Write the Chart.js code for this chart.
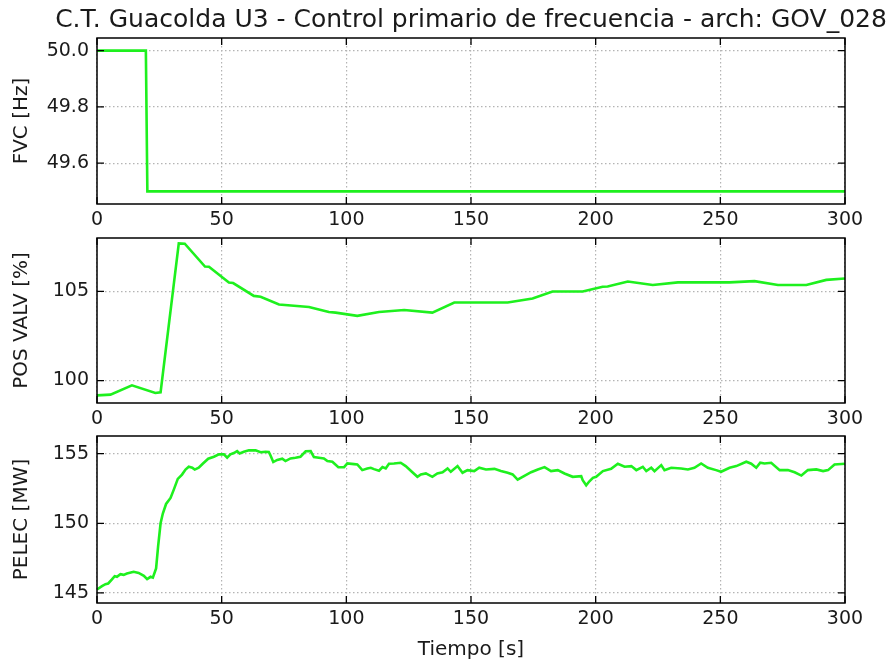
<!DOCTYPE html>
<html>
<head>
<meta charset="utf-8">
<script src="https://cdn.jsdelivr.net/npm/chart.js@4/dist/chart.umd.min.js"></script>
<style>
  html, body { margin: 0; padding: 0; background: #fff; overflow: hidden; }
  #wrap { position: relative; width: 893px; height: 664px; }
  #wrap canvas { position: absolute; left: 0; }
</style>
</head>
<body>
<div id="wrap">
  <canvas id="fvcChart" width="893" height="232" style="top:0px"></canvas>
  <canvas id="valvChart" width="893" height="200" style="top:232px"></canvas>
  <canvas id="pelecChart" width="893" height="232" style="top:432px"></canvas>
</div>
<script>
// frecuencia de consigna (escalon de -0.5 Hz a los 20 s)
const fvcTime = [0, 19.6, 20.2, 300];
const fvcValues = [50.0, 50.0, 49.5, 49.5];

// posicion de valvulas
const valvTime = [0, 5.4, 14, 23.4, 25.5, 32.8, 35.2, 43.3, 44.9, 52.9, 54.6, 62.9, 65.6, 73, 85, 93, 95.7,
  104.4, 113.1, 123.2, 134.5, 143.3, 164.7, 174.7, 182.7, 194.8, 202.8, 204.8, 212.9, 222.9, 233,
  253.7, 263.7, 273.1, 284.5, 292.5, 300];
const valvValues = [99.17, 99.21, 99.73, 99.3, 99.34, 107.7, 107.68, 106.4, 106.39, 105.5, 105.47, 104.75, 104.7,
  104.27, 104.13, 103.85, 103.81, 103.63, 103.85, 103.96, 103.81, 104.38, 104.38, 104.6, 105.0, 105.0,
  105.26, 105.28, 105.56, 105.36, 105.51, 105.51, 105.58, 105.36, 105.36, 105.65, 105.73];

// potencia electrica
const pelecTime = [0, 2, 3.4, 4.5, 6, 7.1, 8, 9.4, 10.7, 12, 14.7, 16.7, 18.8, 20.1, 21.5, 22.4, 23.7, 24.5,
  25.5, 26.4, 27.7, 29.5, 30.8, 32.4, 34.1, 35.5, 36.8, 38.2, 39.2, 40.8, 42.4, 44.6, 46.9, 48.9, 50.9,
  52.2, 53.5, 54.9, 56.2, 57.2, 58.9, 60.9, 63.6, 65.6, 67.6, 68.9, 69.6, 70.7, 72.3, 74.3, 75.6, 77.6,
  79.6, 81.6, 83.7, 85.7, 87.0, 89.0, 91.0, 92.4, 94.4, 96.8, 99.1, 100.4, 103.1, 104.4, 106.4, 108.4,
  109.8, 111.1, 113.1, 114.5, 115.8, 117.1, 119.1, 121.8, 123.8, 126.5, 128.5, 129.9, 131.9, 134.5,
  136.5, 138.6, 140.6, 141.9, 144.6, 146.6, 148.6, 151.3, 153.3, 156.0, 159.4, 162.0, 164.7, 166.7,
  168.7, 170.7, 174.1, 176.8, 179.5, 182.1, 184.8, 187.5, 190.8, 194.2, 194.8, 196.2, 197.5, 198.9,
  200.2, 202.9, 206.2, 208.9, 211.6, 214.3, 216.3, 218.9, 220.3, 222.3, 223.6, 226.3, 227.6, 230.3,
  234.3, 237.0, 239.6, 242.3, 245.0, 248.3, 250.3, 253.7, 256.4, 260.4, 262.4, 264.4, 266.0, 267.7,
  270.4, 273.8, 277.1, 279.8, 282.5, 285.1, 288.5, 291.2, 293.2, 295.8, 300];
const pelecValues = [145.25, 145.49, 145.63, 145.68, 145.97, 146.2, 146.16, 146.35, 146.3, 146.4, 146.52,
  146.44, 146.23, 145.99, 146.16, 146.1, 146.76, 148.32, 150.0, 150.7, 151.39, 151.82, 152.42, 153.19,
  153.5, 153.86, 154.06, 154.0, 153.86, 154.0, 154.28, 154.64, 154.78, 154.95, 154.95, 154.71, 154.95,
  155.05, 155.19, 155.02, 155.14, 155.24, 155.24, 155.1, 155.14, 155.12, 154.87, 154.4, 154.55, 154.64,
  154.47, 154.66, 154.71, 154.78, 155.17, 155.19, 154.76, 154.71, 154.66, 154.47, 154.42, 154.03, 154.03,
  154.3, 154.25, 154.23, 153.82, 153.93, 153.99, 153.89, 153.78, 154.04, 153.94, 154.28, 154.3, 154.35,
  154.11, 153.67, 153.34, 153.51, 153.58, 153.34, 153.58, 153.67, 153.94, 153.7, 154.11, 153.63, 153.82,
  153.75, 153.99, 153.87, 153.91, 153.75, 153.63, 153.51, 153.14, 153.34, 153.67, 153.87, 154.04, 153.75,
  153.82, 153.58, 153.34, 153.39, 153.1, 152.73, 153.02, 153.27, 153.34, 153.75, 153.91, 154.28, 154.06,
  154.11, 153.82, 154.06, 153.75, 153.99, 153.75, 154.18, 153.82, 153.99, 153.94, 153.87, 153.99, 154.3,
  153.99, 153.82, 153.7, 153.99, 154.11, 154.42, 154.28, 153.99, 154.35, 154.3, 154.35, 153.82, 153.82,
  153.67, 153.43, 153.82, 153.87, 153.75, 153.82, 154.23, 154.28];

// ticks
const xTicks = [0, 50, 100, 150, 200, 250, 300];
const fvcTicks = [49.6, 49.8, 50.0];
const valvTicks = [100, 105];
const pelecTicks = [145, 150, 155];

const FONT = 'DejaVu Sans';
const TEXT = '#1a1a1a';
const GREEN = '#1ef01e';

// marco completo y ticks hacia adentro en los 4 lados
const frameTicks = {
  id: 'frameTicks',
  afterDatasetsDraw(chart) {
    const { ctx, chartArea: a, scales: { x, y } } = chart;
    const len = 7;
    ctx.save();
    ctx.strokeStyle = '#000';
    ctx.lineWidth = 1.3;
    ctx.beginPath();
    x.ticks.forEach((t, i) => {
      const px = x.getPixelForTick(i);
      ctx.moveTo(px, a.bottom); ctx.lineTo(px, a.bottom - len);
      ctx.moveTo(px, a.top); ctx.lineTo(px, a.top + len);
    });
    y.ticks.forEach((t, i) => {
      const py = y.getPixelForTick(i);
      ctx.moveTo(a.left, py); ctx.lineTo(a.left + len, py);
      ctx.moveTo(a.right, py); ctx.lineTo(a.right - len, py);
    });
    ctx.stroke();
    ctx.lineWidth = 1.5;
    ctx.strokeRect(a.left, a.top, a.right - a.left, a.bottom - a.top);
    ctx.restore();
  }
};

// titulo centrado sobre el area del grafico
const figTitle = {
  id: 'figTitle',
  afterDraw(chart, args, opts) {
    const { ctx, chartArea: a } = chart;
    ctx.save();
    ctx.font = opts.size + 'px "' + FONT + '"';
    ctx.fillStyle = TEXT;
    ctx.textAlign = 'center';
    ctx.textBaseline = 'alphabetic';
    ctx.fillText(opts.text, (a.left + a.right) / 2, a.top - opts.gap);
    ctx.restore();
  }
};

function makePanel(id, xs, ys, yLabel, yMin, yMax, yTicks, yFmt, cfg) {
  const points = xs.map((x, i) => ({ x: x, y: ys[i] }));
  const plugins = [frameTicks];
  if (cfg.title) plugins.push(figTitle);
  return new Chart(document.getElementById(id), {
    type: 'line',
    data: {
      datasets: [{
        data: points,
        borderColor: GREEN,
        borderWidth: 2.6,
        pointRadius: 0,
        tension: 0,
        fill: false
      }]
    },
    options: {
      responsive: false,
      animation: false,
      events: [],
      layout: { padding: { top: cfg.top, right: 48, bottom: 0, left: 0 } },
      plugins: {
        legend: { display: false },
        tooltip: { enabled: false },
        figTitle: cfg.title || {}
      },
      scales: {
        x: {
          type: 'linear',
          min: 0,
          max: 300,
          afterBuildTicks: s => { s.ticks = xTicks.map(v => ({ value: v })); },
          afterFit: s => { s.height = cfg.xHeight; s.paddingLeft = 0; s.paddingRight = 0; },
          grid: { color: '#b4b4b4', lineWidth: 1.2, drawTicks: false },
          border: { display: false, dash: [1.5, 2.5] },
          ticks: { color: TEXT, padding: 5, maxRotation: 0, font: { family: FONT, size: 19 } },
          title: {
            display: !!cfg.xTitle,
            text: cfg.xTitle || '',
            color: TEXT,
            padding: { top: 0, bottom: 2 },
            font: { family: FONT, size: 20 }
          }
        },
        y: {
          min: yMin,
          max: yMax,
          afterBuildTicks: s => { s.ticks = yTicks.map(v => ({ value: v })); },
          afterFit: s => { s.width = 97; s.paddingTop = 0; s.paddingBottom = 0; },
          grid: { color: '#b4b4b4', lineWidth: 1.2, drawTicks: false },
          border: { display: false, dash: [1.5, 2.5] },
          ticks: { color: TEXT, padding: 8, font: { family: FONT, size: 19 }, callback: yFmt },
          title: {
            display: true,
            text: yLabel,
            color: TEXT,
            padding: { top: 10, bottom: 0 },
            font: { family: FONT, size: 20 }
          }
        }
      }
    },
    plugins: plugins
  });
}

makePanel('fvcChart', fvcTime, fvcValues, 'FVC [Hz]', 49.455, 50.045, fvcTicks, v => v.toFixed(1), {
  top: 38,
  xHeight: 28,
  title: { text: 'C.T. Guacolda U3 - Control primario de frecuencia - arch: GOV_028', size: 25, gap: 11 }
});

makePanel('valvChart', valvTime, valvValues, 'POS VALV [%]', 98.74, 108.0, valvTicks, v => String(v), {
  top: 6,
  xHeight: 29
});

makePanel('pelecChart', pelecTime, pelecValues, 'PELEC [MW]', 144.28, 156.27, pelecTicks, v => String(v), {
  top: 4,
  xHeight: 61,
  xTitle: 'Tiempo [s]'
});
</script>
</body>
</html>
